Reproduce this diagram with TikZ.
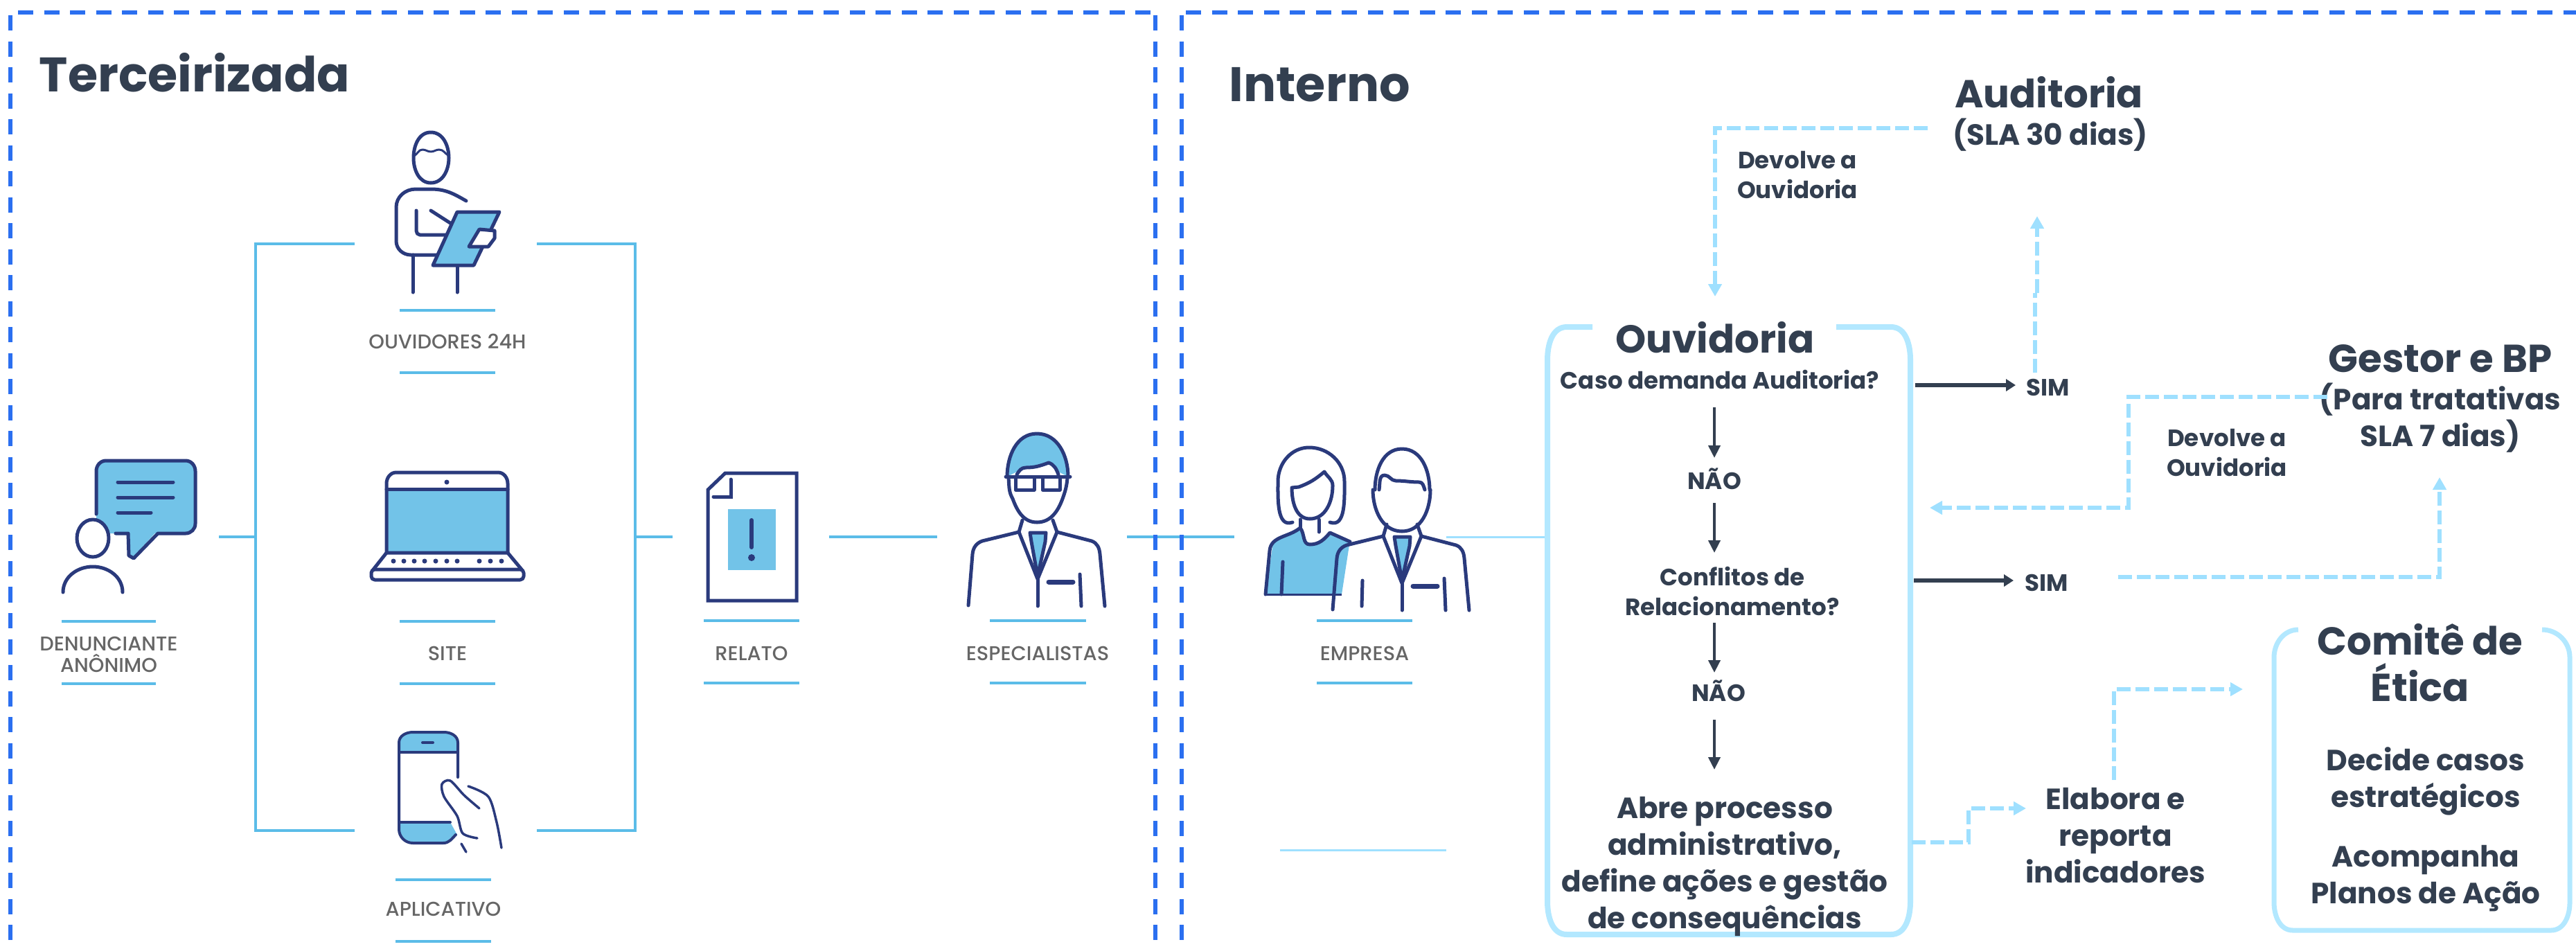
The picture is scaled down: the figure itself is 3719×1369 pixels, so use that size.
\documentclass[tikz,border=0pt]{standalone}
\usepackage{fontspec}
\setmainfont{Poppins}
\newfontfamily\lblfont{Poppins Medium}
\usetikzlibrary{arrows.meta}
\definecolor{framec}{HTML}{2B6FF0}
\definecolor{linkc}{HTML}{5BBCE8}
\definecolor{iconf}{HTML}{72C3E8}
\definecolor{navy}{HTML}{2A3A7C}
\definecolor{lightc}{HTML}{9FE0FF}
\definecolor{boxc}{HTML}{B3E8FF}
\definecolor{darkc}{HTML}{333F50}
\definecolor{greyc}{HTML}{666666}
% jacket and tie, drawn around the centre line of the person
\newcommand{\suitbody}{
  \draw[icn] (1476,751) -- (1471,768) -- (1498,836) -- (1526,768) -- (1520,751);
  \draw[icn, fill=iconf] (1487,769) -- (1510,769) -- (1509,782) -- (1498,832) -- (1489,782) -- cycle;
  \draw[icn] (1471,768) -- (1418,781) to[out=-160,in=85] (1404,800) -- (1398,874);
  \draw[icn] (1526,768) -- (1576,781) to[out=-20,in=95] (1588,800) -- (1595,875);
  \draw[icn] (1498,836) -- (1498,875);
  \draw[icn, line width=0.07cm] (1514,840) -- (1549,840);
  \draw[icn] (1559,829) -- (1561,875);
}
\begin{document}
\begin{tikzpicture}[x=0.01cm, y=-0.01cm,
    ttl/.style={font=\fontsize{19.9}{24}\selectfont\bfseries, text=darkc, inner sep=0pt},
    hd/.style={font=\fontsize{16}{18.8}\selectfont\bfseries, text=darkc, inner sep=0pt, align=center},
    big/.style={font=\fontsize{12}{15}\selectfont\bfseries, text=darkc, inner sep=0pt, align=center},
    sml/.style={font=\fontsize{9.7}{12.2}\selectfont\bfseries, text=darkc, inner sep=0pt, align=center},
    lbl/.style={font=\fontsize{8.2}{8.9}\selectfont\lblfont, text=greyc, inner sep=0pt, align=center},
    lnk/.style={draw=linkc, line width=0.04cm},
    lnkpale/.style={draw=lightc, line width=0.03cm},
    rulebar/.style={draw=linkc, line width=0.04cm},
    fram/.style={draw=framec, line width=0.055cm, dash pattern=on 0.22cm off 0.155cm},
    pale/.style={draw=lightc, line width=0.055cm, dash pattern=on 0.2cm off 0.07cm, -{Triangle[length=0.18cm, width=0.19cm, fill=lightc]}},
    palenotip/.style={draw=lightc, line width=0.055cm, dash pattern=on 0.2cm off 0.07cm},
    solidarr/.style={draw=darkc, line width=0.04cm, -{Triangle[length=0.18cm, width=0.17cm, fill=darkc]}},
    solidwide/.style={draw=darkc, line width=0.055cm, -{Triangle[length=0.14cm, width=0.17cm, fill=darkc]}},
    icn/.style={draw=navy, line width=0.05cm, line cap=round, line join=round},
  ]
  \useasboundingbox (0,0) rectangle (3719,1369);

  % Connector ends
  \foreach \nm/\cx/\cy in {topla/512/352, toplb/369/352, botla/512/1199, botlb/369/1199,
      topra/775/352, toprb/917/352, botra/775/1199, botrb/917/1199,
      midla/316/775, midlb/369/775, midra/917/775, midrb/971/775,
      rela/1197/775, relb/1353/775, espa/1627/775, espb/1782/775,
      empa/2088/775, empb/2231/775, palea/1848/1227, paleb/2088/1227,
      audita/2783/185, auditb/2476/185, auditc/2476/428,
      sima/2938/538, simb/2938/423, simc/2941/423, simd/2941/312,
      gesa/3360/573, gesb/3073/573, gesc/3073/733, gesd/2786/733,
      simf/3058/833, simg/3522/833, simh/3522/689,
      abra/2760/1216, abrb/2842/1216, abrc/2842/1167, abrd/2925/1167,
      elaa/3052/1126, elab/3052/995, elac/3238/995,
      sola/2765/556, solb/2910/556, solc/2763/838, sold/2907/838,
      nao1a/2475/588, nao1b/2475/661, nao2a/2475/726, nao2b/2475/798,
      nao3a/2475/899, nao3b/2475/971, nao4a/2475/1039, nao4b/2475/1111,
      ltop/15/22, lbot/15/1369, lcorn/26/18, lend/1668/18, mtop/1668/22, mbot/1668/1369,
      rtop/1706/22, rbot/1706/1369, rcorn/1712/18, rend/3719/18} {
    \coordinate (\nm) at (\cx,\cy);
  }

  % Tree between the reporter and the report
  \draw[lnk] (topla) -- (toplb) -- (botlb) -- (botla);
  \draw[lnk] (topra) -- (toprb) -- (botrb) -- (botra);
  \draw[lnk] (midla) -- (midlb);
  \draw[lnk] (midra) -- (midrb);
  \draw[lnk] (rela) -- (relb);
  \draw[lnk] (espa) -- (espb);
  \draw[lnkpale] (empa) -- (empb);
  \draw[lnkpale] (palea) -- (paleb);

  % Rules above and below the labels
  \foreach \nm/\xa/\xb/\ya/\yb in {ouv/577/715/448/538, sit/577/715/897/987, den/89/225/897/987,
      apl/571/709/1270/1359, rel/1016/1154/896/986, esp/1429/1568/896/986, emp/1901/2039/896/986} {
    \draw[rulebar] (\xa,\ya) -- (\xb,\ya);
    \draw[rulebar] (\xa,\yb) -- (\xb,\yb);
  }

  % Labels
  \node[lbl, anchor=center] (lblouv) at (646,493) {OUVIDORES 24H};
  \node[lbl, anchor=center] (lblsit) at (646,943) {SITE};
  \node[lbl, anchor=center] (lbldena) at (157,945) {DENUNCIANTE\\ANÔNIMO};
  \node[lbl, anchor=center] (lblapl) at (640,1312) {APLICATIVO};
  \node[lbl, anchor=center] (lblrel) at (1085,943) {RELATO};
  \node[lbl, anchor=center] (lblesp) at (1498,943) {ESPECIALISTAS};
  \node[lbl, anchor=center] (lblemp) at (1970,943) {EMPRESA};

  % Ouvidores 24h
  \draw[icn] (597,228) to[out=90,in=180] (622,191) to[out=0,in=90] (648,228)
    to[out=-90,in=0] (622,264) to[out=180,in=-90] cycle;
  \draw[icn, line width=0.03cm] (598,225) to[out=30,in=180] (610,216) to[out=0,in=180] (622,219)
    to[out=0,in=180] (634,216) to[out=0,in=150] (648,225);
  \draw[icn] (673,290) to[out=150,in=0] (622,273) -- (600,273) to[out=180,in=90] (572,299)
    -- (572,348) to[out=-90,in=180] (593,368) -- (631,368);
  \draw[icn] (601,304) -- (601,333) to[out=-90,in=180] (606,339) -- (644,339);
  \draw[icn] (622,304) -- (650,322);
  \draw[icn] (596,368) -- (596,422);
  \draw[icn] (660,384) -- (660,422);
  \draw[icn, fill=iconf] (660,306) -- (721,306) -- (684,383) -- (625,383) -- cycle;
  \draw[icn, fill=white] (692,331) -- (714,333) -- (714,344) -- (705,356) -- (677,356) -- cycle;

  % Denunciante
  \fill[iconf, rounded corners=0.14cm] (139,665) rectangle (282,770);
  \fill[iconf] (185,765) -- (228,765) -- (191,806) -- (185,800) -- cycle;
  \draw[icn] (139,742) -- (139,680) to[out=90,in=180] (153,665) -- (268,665) to[out=0,in=90] (282,680)
    -- (282,756) to[out=-90,in=0] (268,770) -- (228,770) -- (193,806) -- (186,802) -- (185,770) -- (167,770);
  \draw[icn, fill=white] (134,777) ellipse (23 and 27);
  \draw[icn] (91,855) to[out=90,in=180] (134,818) to[out=0,in=90] (177,855);
  \draw[icn] (170,696) -- (250,696);
  \draw[icn] (170,718) -- (250,718);
  \draw[icn] (170,740) -- (218,740);

  % Laptop
  \fill[iconf] (558,706) rectangle (733,798);
  \draw[icn] (558,798) -- (558,698) to[out=90,in=180] (572,682) -- (719,682) to[out=0,in=90] (733,698) -- (733,798) -- cycle;
  \draw[icn] (558,706) -- (733,706);
  \draw[icn] (558,798) -- (539,822);
  \draw[icn] (733,798) -- (753,822);
  \draw[icn, rounded corners=0.05cm] (536,822) rectangle (756,837);
  \fill[navy] (645,696) circle (3.5);
  \foreach \kx in {568,583,598,613,629,645,660,692,708,724} {
    \fill[navy] (\kx,810) circle (3.5);
  }

  % Phone
  \fill[iconf] (576,1086) -- (576,1072) to[out=90,in=180] (596,1057) -- (641,1057) to[out=0,in=90] (661,1072) -- (661,1086) -- cycle;
  \fill[iconf] (576,1187) -- (650,1187) -- (660,1205) to[out=-135,in=0] (640,1217) -- (596,1217) to[out=180,in=-90] (576,1197) -- cycle;
  \draw[icn, line width=0.04cm] (661,1122) -- (661,1072) to[out=90,in=0] (641,1057) -- (596,1057) to[out=180,in=90] (576,1072)
    -- (576,1197) to[out=-90,in=180] (596,1217) -- (640,1217) to[out=0,in=-135] (658,1205);
  \draw[icn, line width=0.04cm] (576,1086) -- (661,1086);
  \draw[icn, line width=0.04cm] (576,1187) -- (650,1187);
  \draw[icn, line width=0.04cm] (610,1072) -- (625,1072);
  \draw[icn, line width=0.035cm] plot[smooth] coordinates {(689,1210) (668,1203) (660,1178) (641,1150) (638,1132) (650,1127) (670,1148) (692,1167)};
  \draw[icn, line width=0.035cm] plot[smooth] coordinates {(676,1135) (705,1150) (717,1187) (724,1224)};
  \draw[icn, line width=0.035cm] (666,1218) -- (673,1230);

  % Relato
  \draw[icn, line join=miter] (1047,683) -- (1150,683) -- (1150,867) -- (1022,867) -- (1022,707) -- cycle;
  \draw[icn, line join=miter] (1055,692) -- (1055,717) -- (1030,717);
  \fill[iconf] (1051,735) rectangle (1120,823);
  \draw[icn, line width=0.06cm] (1085,751) -- (1085,790);
  \fill[navy] (1085,805) circle (5);

  % Especialista
  \fill[iconf] (1454,688) to[out=90,in=180] (1497,626) to[out=0,in=90] (1542,688) -- (1528,681)
    to[out=150,in=-20] (1514,668) to[out=200,in=0] (1481,675) -- (1468,681) -- cycle;
  \draw[icn] (1454,688) to[out=90,in=180] (1497,626) to[out=0,in=90] (1542,688);
  \draw[icn] (1468,685) to[out=60,in=180] (1481,675) to[out=0,in=200] (1514,668) to[out=-20,in=110] (1528,685);
  \draw[icn] (1452,688) -- (1545,688);
  \draw[icn] (1466,688) rectangle (1493,707);
  \draw[icn] (1505,688) rectangle (1530,707);
  \draw[icn] (1456,690) to[out=-85,in=120] (1462,720) to[out=-70,in=180] (1497,754) to[out=0,in=-110] (1534,720) to[out=70,in=-95] (1541,690);
  \suitbody

  % Empresa, woman
  \fill[iconf] (1827,858) -- (1837,790) to[out=80,in=220] (1877,762) to[out=-50,in=180] (1891,786)
    to[out=0,in=230] (1920,769) -- (1949,780) -- (1937,858) -- cycle;
  \draw[icn] (1827,858) -- (1833,795) to[out=85,in=220] (1877,762) to[out=-50,in=180] (1891,786) to[out=0,in=230] (1920,769) -- (1949,782);
  \draw[navy, line width=0.03cm] (1827,858) -- (1937,858);
  \draw[icn] (1852,811) -- (1850,858);
  \draw[icn] (1866,754) to[out=200,in=-90] (1845,695) to[out=90,in=180] (1890,646) to[out=0,in=90] (1941,695) to[out=-90,in=-20] (1920,754);
  \draw[icn] (1865,704) to[out=-90,in=180] (1891,749) to[out=0,in=-90] (1924,701) to[out=90,in=-60] (1912,681)
    to[out=-140,in=20] (1875,703) -- (1865,704);
  \draw[icn] (1877,750) -- (1877,762);
  \draw[icn] (1904,750) -- (1904,768);

  % Empresa, man
  \fill[white] (1942,875) -- (1947,806) to[out=85,in=200] (1996,775) -- (2052,775) to[out=-20,in=95] (2114,806) -- (2121,881) -- cycle;
  \begin{scope}[shift={(526,6)}]
    \suitbody
  \end{scope}
  \draw[icn] (1985,707) to[out=90,in=180] (2024,648) to[out=0,in=90] (2064,707);
  \draw[icn] (1982,707) to[out=-90,in=180] (2024,767) to[out=0,in=-90] (2065,707);
  \draw[icn] (1991,707) to[out=80,in=180] (1999,686) to[out=0,in=180] (2015,694) to[out=0,in=180] (2049,696) to[out=0,in=110] (2057,707);
  \draw[icn] (1967,838) -- (1966,875);

  % Boxes
  \draw[draw=boxc, line width=0.08cm] (2299,472) -- (2262,472) to[out=180,in=90] (2234,520) -- (2234,1301)
    to[out=-90,in=180] (2262,1349) -- (2730,1349) to[out=0,in=-90] (2758,1301) -- (2758,520) to[out=90,in=0] (2730,472) -- (2651,472);
  \draw[draw=boxc, line width=0.07cm] (3318,909) to[out=180,in=90] (3283,949) -- (3283,1303)
    to[out=-90,in=180] (3310,1343) -- (3683,1343) to[out=0,in=-90] (3710,1303) -- (3710,949) to[out=90,in=0] (3670,909);

  % Titles
  \node[ttl, anchor=base west] (terc) at (56,132) {Terceirizada};
  \node[ttl, anchor=base west] (intr) at (1774,146) {Interno};

  % Right hand texts
  \node[hd, anchor=base] (audit) at (2958,155) {Auditoria};
  \node[big, anchor=base] (sla) at (2960,209) {(SLA 30 dias)};
  \node[hd, anchor=base] (gestor) at (3523,537) {Gestor e BP};
  \node[big, anchor=base] (para) at (3523,644) {(Para tratativas\\SLA 7 dias)};
  \node[sml, anchor=base] (dev1) at (2595,286) {Devolve a\\Ouvidoria};
  \node[sml, anchor=base] (dev2) at (3215,687) {Devolve a\\Ouvidoria};
  \node[sml, anchor=base] (sim1) at (2957,571) {SIM};
  \node[sml, anchor=base] (sim2) at (2955,853) {SIM};
  \node[hd, anchor=base] (ouv) at (2476,509) {Ouvidoria};
  \node[sml, anchor=base] (caso) at (2483,561) {Caso demanda Auditoria?};
  \node[sml, anchor=base] (nao1) at (2475,706) {NÃO};
  \node[sml, anchor=base] (conf) at (2501,888) {Conflitos de\\Relacionamento?};
  \node[sml, anchor=base] (nao2) at (2481,1012) {NÃO};
  \node[big, anchor=base] (abre) at (2490,1340) {Abre processo\\administrativo,\\define ações e gestão\\de consequências};
  \node[big, anchor=base] (elabora) at (3054,1274) {Elabora e\\reporta\\indicadores};
  \node[hd, anchor=base] (comi) at (3494,1012) {Comitê de\\Ética};
  \node[big, anchor=base] (deci) at (3502,1165) {Decide casos\\estratégicos};
  \node[big, anchor=base] (acom) at (3502,1304) {Acompanha\\Planos de Ação};

  % Dashed arrows
  \draw[pale] (audita) -- (auditb) -- (auditc);
  \draw[palenotip] (sima) -- (simb);
  \draw[pale] (simc) -- (simd);
  \draw[pale] (gesa) -- (gesb) -- (gesc) -- (gesd);
  \draw[pale] (simf) -- (simg) -- (simh);
  \draw[pale] (abra) -- (abrb) -- (abrc) -- (abrd);
  \draw[pale] (elaa) -- (elab) -- (elac);

  % Solid arrows
  \draw[solidwide] (sola) -- (solb);
  \draw[solidwide] (solc) -- (sold);
  \draw[solidarr] (nao1a) -- (nao1b);
  \draw[solidarr] (nao2a) -- (nao2b);
  \draw[solidarr] (nao3a) -- (nao3b);
  \draw[solidarr] (nao4a) -- (nao4b);

  % Frames
  \draw[fram] (lcorn) -- (lend);
  \draw[fram] (ltop) -- (lbot);
  \draw[fram] (mtop) -- (mbot);
  \draw[fram] (rcorn) -- (rend);
  \draw[fram] (rtop) -- (rbot);
\end{tikzpicture}
\end{document}
